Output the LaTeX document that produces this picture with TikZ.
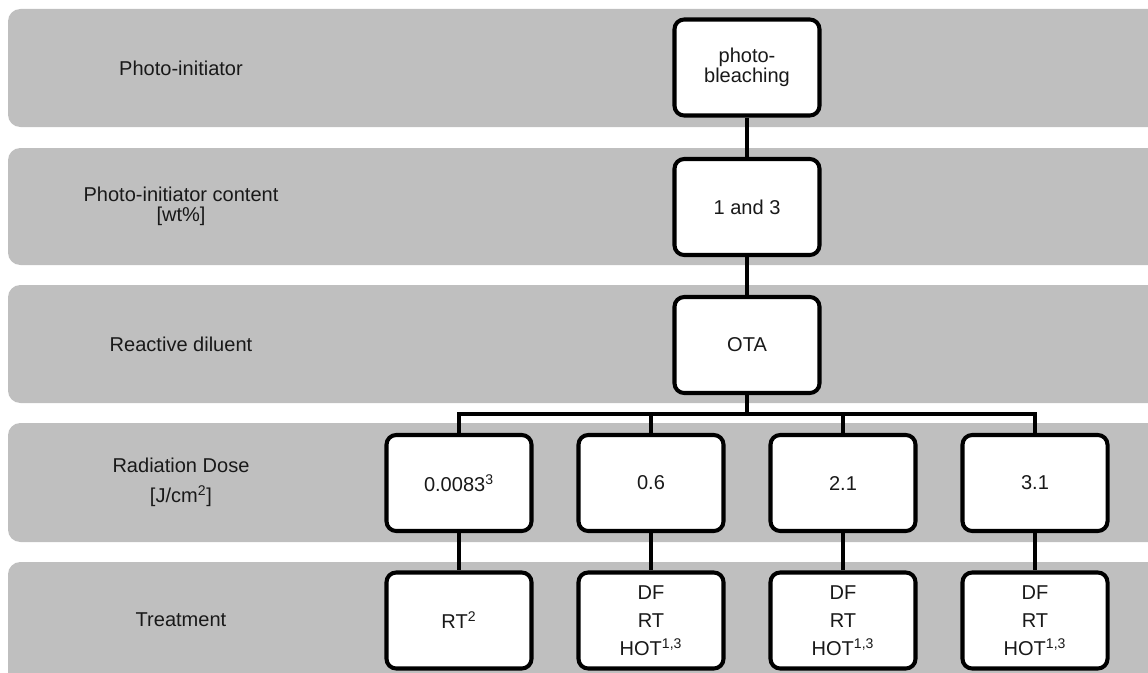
\documentclass[tikz,border=0pt]{standalone}
\usepackage{fontspec}
\setmainfont{Liberation Sans}

\begin{document}
\begin{tikzpicture}[
    band/.style={fill=black!25, rounded corners=7pt},
    level/.style={align=center, text=black!90, font=\fontsize{11.4}{11.4}\selectfont},
    choice/.style={draw, line width=2.3pt, rounded corners=5.5pt, fill=white, align=center, minimum width=2.9cm, minimum height=1.92cm, text=black!90, font=\fontsize{11.4}{11.4}\selectfont},
    treat/.style={choice, font=\fontsize{11.4}{15.8}\selectfont},
    link/.style={line width=2.3pt}
]
\clip (0,0) rectangle (22.96,13.44);

\fill[band] (0.16,13.26) rectangle (23.6,10.9);
\fill[band] (0.16,10.48) rectangle (23.6,8.14);
\fill[band] (0.16,7.74) rectangle (23.6,5.38);
\fill[band] (0.16,4.98) rectangle (23.6,2.6);
\fill[band] (0.16,2.2) rectangle (23.6,-0.4);

\node[level] (initiator-label) at (3.62,12.08) {Photo-initiator};
\node[level] (content-label) at (3.62,9.31) {Photo-initiator content\\{}[wt\%]};
\node[level] (diluent-label) at (3.62,6.56) {Reactive diluent};
\node[level] (dose-label) at (3.62,3.79) {Radiation Dose\\[6pt]{}[J/cm\textsuperscript{2}]};
\node[level] (treatment-label) at (3.62,1.04) {Treatment};

\node[choice] (initiator) at (14.94,12.09) {photo-\\bleaching};
\node[choice] (content) at (14.94,9.30) {1 and 3};
\node[choice] (diluent) at (14.94,6.54) {OTA};
\coordinate (bus) at (14.94,5.16);

\node[choice] (dose1) at (9.18,3.78) {0.0083\textsuperscript{3}};
\node[choice] (dose2) at (13.02,3.78) {0.6};
\node[choice] (dose3) at (16.86,3.78) {2.1};
\node[choice] (dose4) at (20.70,3.78) {3.1};

\node[treat] (treat1) at (9.18,1.03) {RT\textsuperscript{2}};
\node[treat] (treat2) at (13.02,1.03) {DF\\RT\\HOT\textsuperscript{1,3}};
\node[treat] (treat3) at (16.86,1.03) {DF\\RT\\HOT\textsuperscript{1,3}};
\node[treat] (treat4) at (20.70,1.03) {DF\\RT\\HOT\textsuperscript{1,3}};

\draw[link] (initiator) -- (content);
\draw[link] (content) -- (diluent);
\draw[link] (diluent) -- (bus);
\foreach \i in {1,...,4} {
    \draw[link] (dose\i.north) |- (bus);
    \draw[link] (dose\i) -- (treat\i);
}
\end{tikzpicture}
\end{document}
